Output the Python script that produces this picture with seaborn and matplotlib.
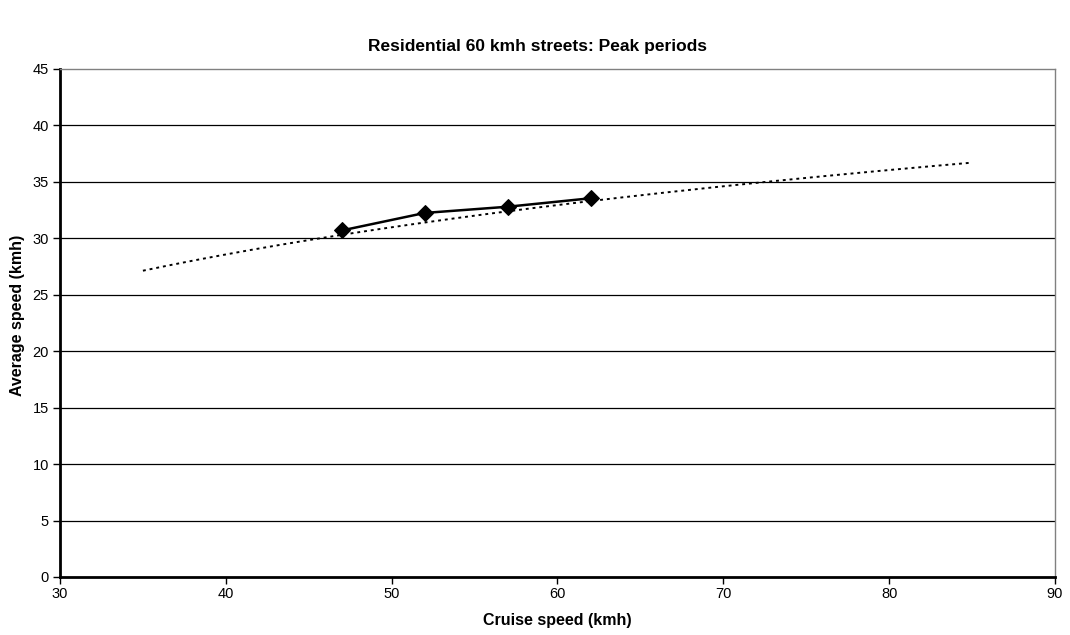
import numpy as np
import pandas as pd
import matplotlib
matplotlib.use("Agg")
import matplotlib.pyplot as plt
import seaborn as sns

# Data
cruise_speed = [47, 52, 57, 62]
average_speed = [30.7, 32.25, 32.8, 33.55]

# Logarithmic trendline (y = b*ln(x) + a), drawn from x=35 to x=85
trend_b = 10.79
trend_a = -11.23
trend_range = [35, 85]

x_ticks = [30, 40, 50, 60, 70, 80, 90]
y_ticks = [0, 5, 10, 15, 20, 25, 30, 35, 40, 45]

title = "Residential 60 kmh streets: Peak periods"
x_label = "Cruise speed (kmh)"
y_label = "Average speed (kmh)"

sns.set_theme(style="white")
plt.rcParams["font.family"] = ["Liberation Sans", "DejaVu Sans"]
plt.rcParams["text.color"] = "black"
plt.rcParams["axes.labelcolor"] = "black"

fig = plt.figure(figsize=(10.7, 6.35), dpi=100)
ax = fig.add_axes([60 / 1070, 1 - 577 / 635, 995 / 1070, 508 / 635])

# gridlines
for yv in y_ticks[1:-1]:
    ax.axhline(yv, color="black", linewidth=0.9, zorder=1)

tx = np.linspace(trend_range[0], trend_range[1], 200)
trend_df = pd.DataFrame({"x": tx, "y": trend_b * np.log(tx) + trend_a})
sns.lineplot(data=trend_df, x="x", y="y", ax=ax, color="black",
             linewidth=1.4, linestyle=(0, (1.5, 2.0)), zorder=3)

df = pd.DataFrame({"x": cruise_speed, "y": average_speed})
sns.lineplot(data=df, x="x", y="y", ax=ax, color="black", linewidth=1.8,
             marker="D", markersize=8, markeredgecolor="black",
             markerfacecolor="black", zorder=4)

ax.set_xlim(30, 90)
ax.set_ylim(0, 45)
ax.set_xticks(x_ticks)
ax.set_yticks(y_ticks)
ax.tick_params(axis="both", which="major", direction="out", length=5,
               width=1, color="black", labelsize=10.5, labelcolor="black",
               bottom=True, left=True)
ax.tick_params(axis="x", pad=2)
ax.tick_params(axis="y", pad=3)

for side in ["left", "bottom"]:
    ax.spines[side].set_color("black")
    ax.spines[side].set_linewidth(2)
for side in ["top", "right"]:
    ax.spines[side].set_color("#808080")
    ax.spines[side].set_linewidth(1)

ax.set_xlabel("")
ax.set_ylabel("")
fig.text((60 + 1055) / 2 / 1070, 1 - 620 / 635, x_label, fontsize=11.5,
         fontweight="bold", ha="center", va="center", color="black")
fig.text(18 / 1070, 1 - 315 / 635, y_label, fontsize=11.5, rotation=90,
         fontweight="bold", ha="center", va="center", color="black")
fig.text(537 / 1070, 1 - 47 / 635, title,
         fontsize=12.5, fontweight="bold", ha="center", va="center",
         color="black")

fig.savefig("out.png", dpi=100, facecolor="white")
